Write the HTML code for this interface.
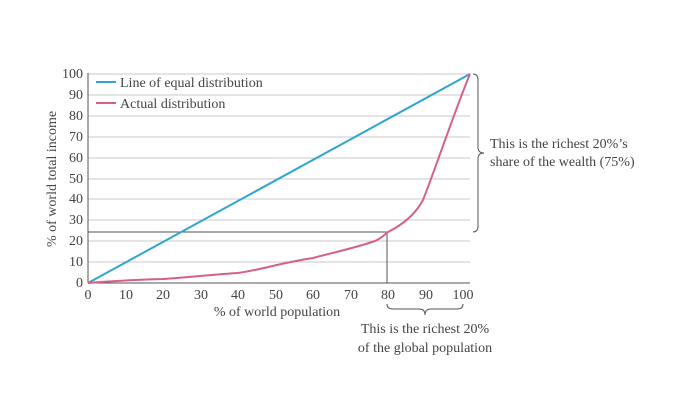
<!DOCTYPE html>
<html><head><meta charset="utf-8"><style>
body{margin:0;background:#fff}
svg text{font-family:"Liberation Serif",serif;fill:#444;font-size:14px}
</style></head><body>
<svg width="690" height="414" viewBox="0 0 690 414" xmlns="http://www.w3.org/2000/svg">
<g stroke="#c8c8c8" stroke-width="1">
<line x1="88" x2="470" y1="74" y2="74"/><line x1="88" x2="470" y1="95" y2="95"/><line x1="88" x2="470" y1="116" y2="116"/><line x1="88" x2="470" y1="137" y2="137"/><line x1="88" x2="470" y1="158" y2="158"/><line x1="88" x2="470" y1="179" y2="179"/><line x1="88" x2="470" y1="199" y2="199"/><line x1="88" x2="470" y1="220" y2="220"/><line x1="88" x2="470" y1="241" y2="241"/><line x1="88" x2="470" y1="262" y2="262"/>
</g>
<g stroke="#555" stroke-width="1" fill="none">
<line x1="88" y1="73" x2="88" y2="283"/><line x1="88" y1="283" x2="470" y2="283"/>
<line x1="88" y1="232" x2="387" y2="232"/><line x1="387" y1="232" x2="387" y2="283"/>
<path d="M473,74 Q478,74 478,80 L478,147 Q478,153 484,153 Q478,153 478,159 L478,226 Q478,232 473,232"/>
<path d="M387,304 Q387,309 393,309 L419,309 Q425,309 425,315 Q425,309 431,309 L457,309 Q463,309 463,304"/>
</g>
<line x1="88" y1="283" x2="470" y2="74" stroke="#2ea6d0" stroke-width="2"/>
<path d="M88,283 C110,281 130,280 163,279 C190,277 220,274 238,273 C260,270 280,263 313,258 C335,252 355,248 375,241 C382,238 385,234 388,232 C402,225 415,215 423,200 C435,170 455,110 470,74" fill="none" stroke="#d6608a" stroke-width="2"/>
<line x1="96" y1="82" x2="116" y2="82" stroke="#2ea6d0" stroke-width="2"/>
<line x1="96" y1="103" x2="116" y2="103" stroke="#d6608a" stroke-width="2"/>
<text x="120" y="87">Line of equal distribution</text>
<text x="120" y="108">Actual distribution</text>
<g text-anchor="end">
<text x="83" y="78">100</text><text x="83" y="99">90</text><text x="83" y="120">80</text><text x="83" y="141">70</text><text x="83" y="162">60</text><text x="83" y="183">50</text><text x="83" y="203">40</text><text x="83" y="224">30</text><text x="83" y="245">20</text><text x="83" y="266">10</text><text x="83" y="287">0</text>
</g>
<g text-anchor="middle">
<text x="88" y="299">0</text><text x="126" y="299">10</text><text x="163" y="299">20</text><text x="201" y="299">30</text><text x="238" y="299">40</text><text x="276" y="299">50</text><text x="313" y="299">60</text><text x="351" y="299">70</text><text x="388" y="299">80</text><text x="426" y="299">90</text><text x="463" y="299">100</text>
<text x="277" y="316">% of world population</text>
<text x="425" y="333">This is the richest 20%</text>
<text x="425" y="352">of the global population</text>
<text transform="translate(56,179) rotate(-90)">% of world total income</text>
</g>
<text x="490" y="148">This is the richest 20%’s</text>
<text x="490" y="166">share of the wealth (75%)</text>
</svg>
</body></html>
